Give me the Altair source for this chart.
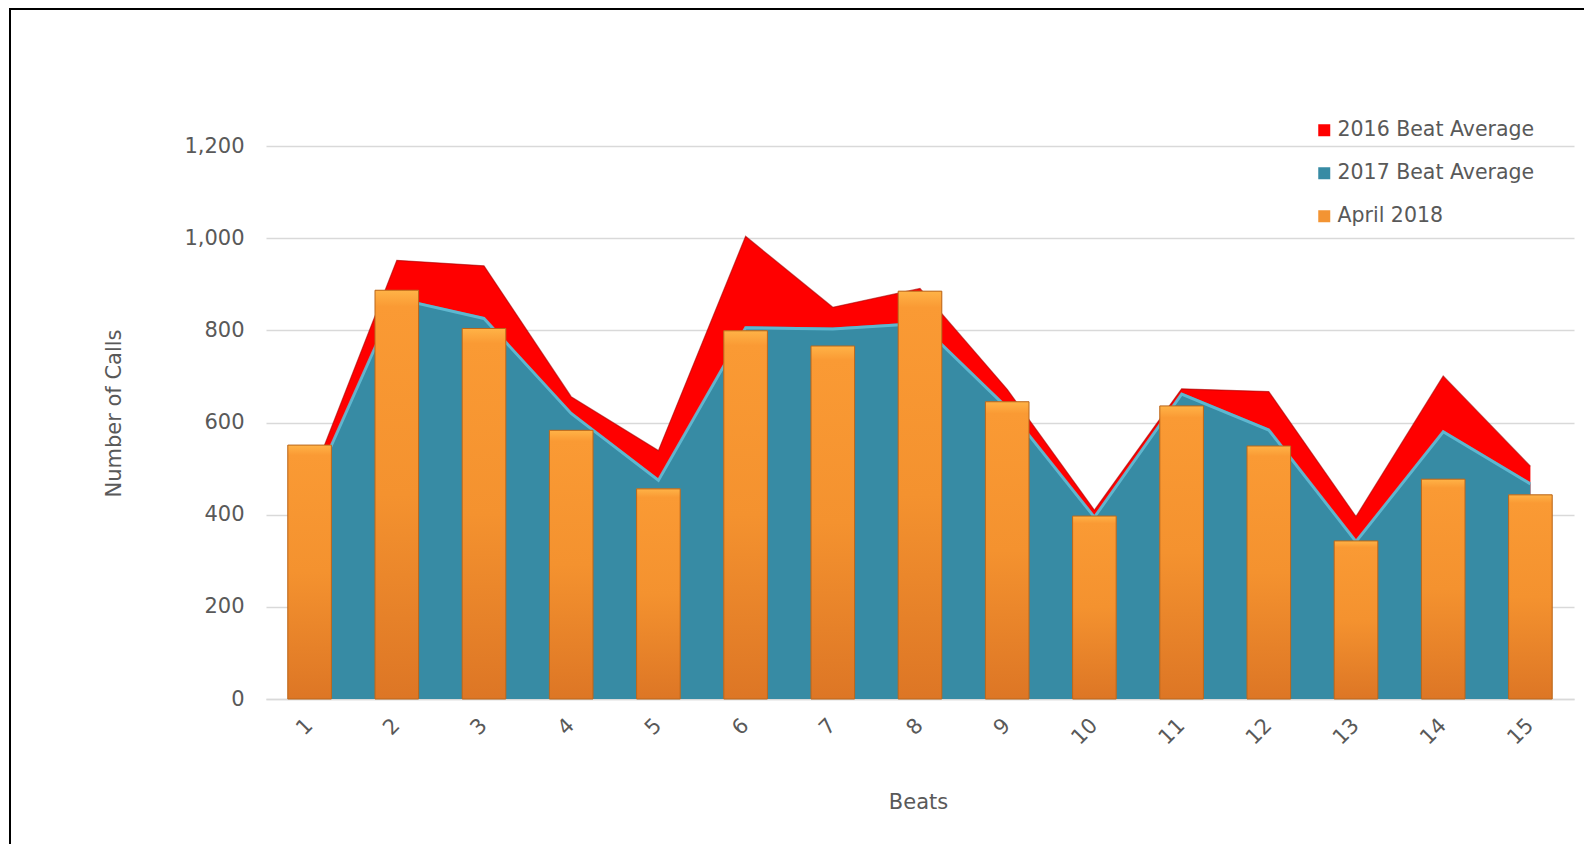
import altair as alt
import pandas as pd

# ---- data ----
beats = [str(i) for i in range(1, 16)]
avg_2016 = [468, 952, 940, 656, 539, 1004, 850, 891, 672, 410, 673, 667, 396, 701, 505]
avg_2017 = [448, 872, 829, 623, 478, 809, 806, 818, 635, 398, 665, 587, 345, 583, 470]
april_2018 = [551, 887, 804, 583, 456, 799, 766, 885, 645, 397, 636, 549, 343, 477, 443]
series_names = ["2016 Beat Average", "2017 Beat Average", "April 2018"]
series_colors = ["#FF0000", "#378BA4", "#F39433"]
y_ticks = [0, 200, 400, 600, 800, 1000, 1200]

FONT = "DejaVu Sans"
TXT = "#595959"
GRID = "#D9D9D9"

df = pd.DataFrame({
    "Beat": beats * 3,
    "Calls": avg_2016 + avg_2017 + april_2018,
    "Series": [s for s in series_names for _ in beats],
})

x = alt.X(
    "Beat:N", sort=beats,
    scale=alt.Scale(paddingInner=0.5, paddingOuter=0.25),
    axis=alt.Axis(
        title="Beats", labelAngle=315, labelAlign="right", labelBaseline="middle",
        labelPadding=23, ticks=False, tickSize=0, labelFontSize=21, labelColor=TXT,
        labelFont=FONT, domainColor=GRID, domainWidth=1.5, grid=False,
        titleFontSize=21, titleFontWeight="normal", titleColor=TXT, titleFont=FONT,
        titleX=652, titleY=103, titleAlign="center", titleBaseline="middle",
    ),
)
y = alt.Y(
    "Calls:Q",
    scale=alt.Scale(domain=[0, 1200], nice=False),
    axis=alt.Axis(
        title="Number of Calls", values=y_ticks, format=",.0f", ticks=False, tickSize=0,
        labelPadding=22, labelFontSize=21, labelColor=TXT, labelFont=FONT,
        domain=False, gridColor=GRID, gridWidth=1.5,
        titleFontSize=21, titleFontWeight="normal", titleColor=TXT, titleFont=FONT,
        titleAngle=270, titleX=-152, titleY=267, titleAlign="center", titleBaseline="middle",
    ),
)
color = alt.Color(
    "Series:N",
    scale=alt.Scale(domain=series_names, range=series_colors),
    legend=alt.Legend(
        title=None, orient="none", legendX=1048, legendY=-26, symbolType="square",
        symbolSize=144, symbolStrokeWidth=0, labelFontSize=20.5, labelColor=TXT,
        labelFont=FONT, rowPadding=22, labelOffset=3, labelLimit=0,
    ),
)

base = alt.Chart(df)

red = base.transform_filter(alt.datum.Series == series_names[0]).mark_area(opacity=1).encode(x=x, y=y, color=color)
red_edge = base.transform_filter(alt.datum.Series == series_names[0]).mark_line(
    color="#A80000", strokeWidth=1.2, opacity=0.6).encode(x=x, y=y)
teal = base.transform_filter(alt.datum.Series == series_names[1]).mark_area(opacity=1).encode(x=x, y=y, color=color)
teal_edge = base.transform_filter(alt.datum.Series == series_names[1]).mark_line(
    color="#6CC6DF", strokeWidth=3, opacity=0.75, yOffset=1.5).encode(x=x, y=y)
bars = base.transform_filter(alt.datum.Series == series_names[2]).mark_bar().encode(x=x, y=y, color=color)
bars_grad = base.transform_filter(alt.datum.Series == series_names[2]).mark_bar(
    fill=alt.Gradient(
        gradient="linear",
        stops=[
            alt.GradientStop(color="#FFB347", offset=0),
            alt.GradientStop(color="#FA9A34", offset=0.04),
            alt.GradientStop(color="#F4922F", offset=0.5),
            alt.GradientStop(color="#DD7625", offset=1),
        ],
        x1=0, x2=0, y1=0, y2=1,
    ),
    stroke="#B9661C", strokeWidth=1,
).encode(x=x, y=y)

frame = alt.Chart(pd.DataFrame({"k": [0]})).mark_rect(
    fill="white", fillOpacity=0, stroke="black", strokeWidth=2
).encode(
    x=alt.value(-256), x2=alt.value(1500), y=alt.value(-137), y2=alt.value(900)
)

chart = alt.layer(red, red_edge, teal, teal_edge, bars, bars_grad, frame).properties(
    width=1308, height=553,
    autosize=alt.AutoSizeParams(type="none"),
    padding={"left": 258, "top": 138, "right": 10, "bottom": 145},
).configure(font=FONT).configure_view(stroke=None, strokeWidth=0)

chart.save("out.html", embed_options={"renderer": "svg", "actions": False})
